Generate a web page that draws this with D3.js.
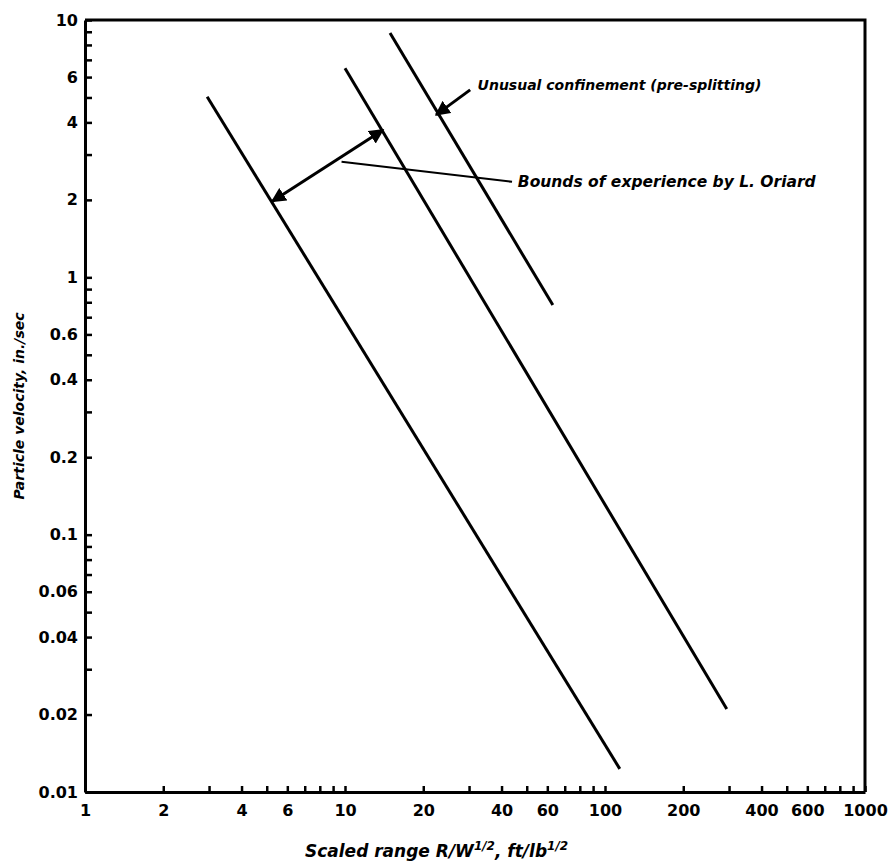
<!DOCTYPE html>
<html>
<head>
<meta charset="utf-8">
<script src="https://cdn.jsdelivr.net/npm/d3@7"></script>
<style>
  html, body { margin: 0; padding: 0; background: #fff; }
  svg { display: block; }
  text { font-family: "DejaVu Sans", sans-serif; font-weight: bold; fill: #000; }
</style>
</head>
<body>
<svg id="chart" width="890" height="866"></svg>
<script>
// ---- data (log-log plot) ----
const xTickValues = [1, 2, 4, 6, 10, 20, 40, 60, 100, 200, 400, 600, 1000];
const yTickValues = [0.01, 0.02, 0.04, 0.06, 0.1, 0.2, 0.4, 0.6, 1, 2, 4, 6, 10];

// bound lines: [scaled range, particle velocity]
const lowerBound = [[2.95, 5.03], [114, 0.0123]];
const upperBound = [[10, 6.5], [294, 0.021]];
const presplitLine = [[14.9, 8.9], [63, 0.78]];

// annotations
const boundsArrow = [[5.24, 1.97], [14.0, 3.74]];
const boundsLeader = [[9.7, 2.81], [43.9, 2.35]];
const presplitArrow = [[30.3, 5.35], [22.4, 4.28]];
const boundsLabel = { x: 45, y: 2.35, text: "Bounds of experience by L. Oriard" };
const presplitLabel = { x: 31.5, y: 5.6, text: "Unusual confinement (pre-splitting)" };

// ---- drawing ----
const svg = d3.select("#chart");
const margin = { left: 85, right: 25, top: 20, bottom: 74 };
const W = 890, H = 866;

const x = d3.scaleLog().domain([1, 1000]).range([margin.left, W - margin.right]);
const y = d3.scaleLog().domain([0.01, 10]).range([H - margin.bottom, margin.top]);

function minorTicks(lo, hi) {
  const out = [];
  for (let d = lo; d < hi; d *= 10) for (let k = 1; k <= 9; k++) out.push(d * k);
  out.push(hi);
  return out;
}

// minor ticks (inside)
const xMinor = d3.axisBottom(x).tickValues(minorTicks(1, 1000)).tickSizeInner(-6).tickSizeOuter(0).tickFormat("");
const yMinor = d3.axisLeft(y).tickValues(minorTicks(0.01, 10)).tickSizeInner(-7).tickSizeOuter(0).tickFormat("");

const gx = svg.append("g").attr("transform", `translate(0,${y(0.01)})`).call(xMinor);
const gy = svg.append("g").attr("transform", `translate(${x(1)},0)`).call(yMinor);
[gx, gy].forEach(g => {
  g.select(".domain").attr("stroke", "#000").attr("stroke-width", 3);
  g.selectAll(".tick line").attr("stroke", "#000").attr("stroke-width", 2.5);
});

// labelled ticks
const xLab = d3.axisBottom(x).tickValues(xTickValues).tickSize(0).tickPadding(13).tickFormat(d3.format("~g"));
const yLab = d3.axisLeft(y).tickValues(yTickValues).tickSize(0).tickPadding(7).tickFormat(d3.format("~g"));
const gxl = svg.append("g").attr("transform", `translate(0,${y(0.01)})`).call(xLab);
const gyl = svg.append("g").attr("transform", `translate(${x(1)},0)`).call(yLab);
[gxl, gyl].forEach(g => {
  g.select(".domain").remove();
  g.selectAll("text").attr("font-size", 16).attr("font-family", "DejaVu Sans").attr("font-weight", "bold");
});

// frame (top and right)
svg.append("path")
  .attr("d", `M${x(1)},${y(10)}H${x(1000)}V${y(0.01)}`)
  .attr("fill", "none").attr("stroke", "#000").attr("stroke-width", 3);

const line = d3.line().x(d => x(d[0])).y(d => y(d[1]));

[lowerBound, upperBound, presplitLine].forEach(seg => {
  svg.append("path").attr("d", line(seg))
    .attr("fill", "none").attr("stroke", "#000").attr("stroke-width", 3);
});

// arrow marker
const defs = svg.append("defs");
defs.append("marker").attr("id", "ah").attr("viewBox", "0 0 10 10")
  .attr("refX", 9).attr("refY", 5).attr("markerWidth", 5).attr("markerHeight", 5)
  .attr("markerUnits", "strokeWidth").attr("orient", "auto-start-reverse")
  .append("path").attr("d", "M0,0L10,5L0,10z").attr("fill", "#000");

svg.append("path").attr("d", line(boundsArrow))
  .attr("fill", "none").attr("stroke", "#000").attr("stroke-width", 3)
  .attr("marker-start", "url(#ah)").attr("marker-end", "url(#ah)");
svg.append("path").attr("d", line(boundsLeader))
  .attr("fill", "none").attr("stroke", "#000").attr("stroke-width", 2);
svg.append("path").attr("d", line(presplitArrow))
  .attr("fill", "none").attr("stroke", "#000").attr("stroke-width", 3)
  .attr("marker-end", "url(#ah)");

svg.append("text").attr("x", x(boundsLabel.x) + 3).attr("y", y(boundsLabel.y) + 5)
  .attr("font-size", 15.5).attr("font-style", "italic").text(boundsLabel.text);
svg.append("text").attr("x", x(presplitLabel.x) + 3).attr("y", y(presplitLabel.y) + 5)
  .attr("font-size", 14).attr("font-style", "italic").text(presplitLabel.text);

// axis titles
svg.append("text")
  .attr("transform", `translate(24,${(y(10) + y(0.01)) / 2}) rotate(-90)`)
  .attr("text-anchor", "middle").attr("font-size", 14).attr("font-style", "italic")
  .text("Particle velocity, in./sec");

const xt = svg.append("text").attr("x", 305).attr("y", 857)
  .attr("font-size", 17).attr("font-style", "italic");
xt.append("tspan").text("Scaled range R/W");
xt.append("tspan").attr("dy", -7).attr("font-size", 12).text("1/2");
xt.append("tspan").attr("dy", 7).text(", ft/lb");
xt.append("tspan").attr("dy", -7).attr("font-size", 12).text("1/2");
</script>
</body>
</html>
